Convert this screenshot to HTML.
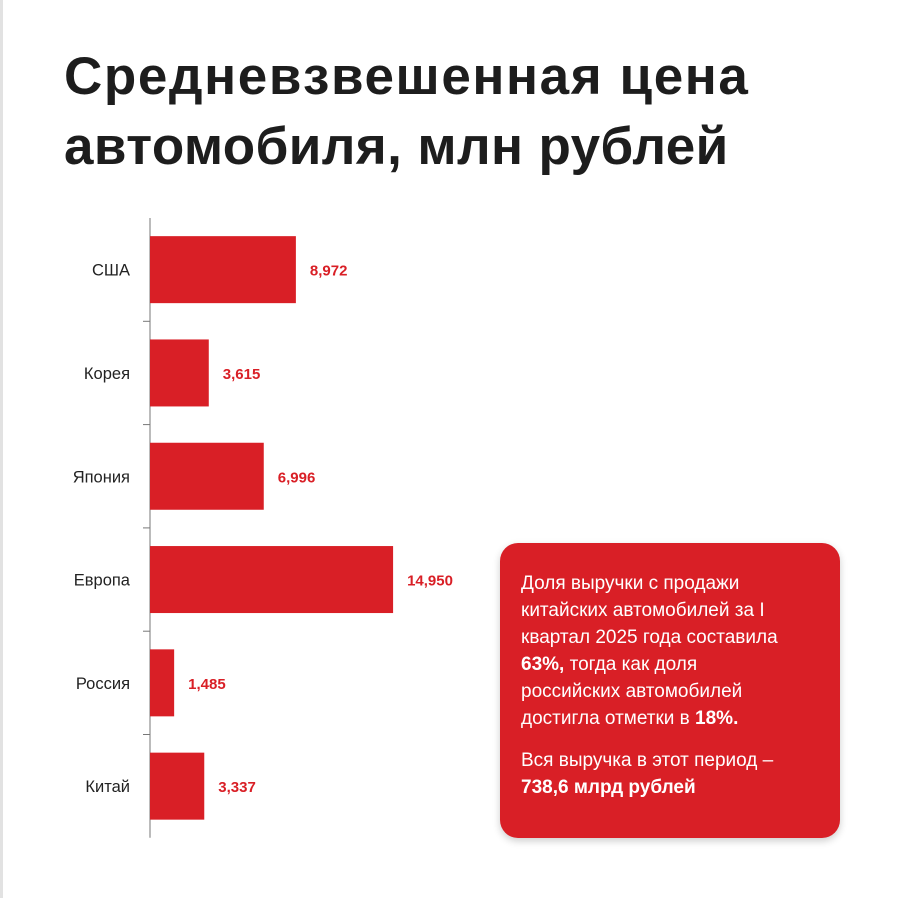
<!DOCTYPE html>
<html><head><meta charset="utf-8"><style>
body{margin:0;width:902px;height:898px;background:#fff;position:relative;overflow:hidden;font-family:"Liberation Sans","DejaVu Sans",sans-serif}
#edge{position:absolute;left:0;top:0;width:3px;height:898px;background:#e2e2e2}
h1{position:absolute;left:64px;top:42px;margin:0;font-size:53px;line-height:70px;font-weight:bold;color:#1d1d1d;letter-spacing:1.6px;white-space:nowrap}
#box{position:absolute;left:500px;top:543px;width:340px;height:295px;background:#d91f26;border-radius:18px;box-shadow:0 3px 8px rgba(0,0,0,0.2);color:#fff;font-size:19px;line-height:27px}
#box p{margin:0;position:absolute;left:21px;width:315px;white-space:nowrap}
</style></head><body>
<div id="edge"></div>
<h1>Средневзвешенная цена<br><span style="letter-spacing:0.4px">автомобиля, млн рублей</span></h1>
<svg id="chart" width="902" height="898" style="position:absolute;left:0;top:0"></svg>
<div id="box">
<p style="top:27px">Доля выручки с продажи<br>китайских автомобилей за I<br>квартал 2025 года составила<br><b>63%,</b> тогда как доля<br>российских автомобилей<br>достигла отметки в <b>18%.</b></p>
<p style="top:204px">Вся выручка в этот период –<br><b>738,6 млрд рублей</b></p>
</div>
<script>
const categories=["США","Корея","Япония","Европа","Россия","Китай"];
const values=[8.972,3.615,6.996,14.950,1.485,3.337];
const valueLabels=["8,972","3,615","6,996","14,950","1,485","3,337"];
const NS="http://www.w3.org/2000/svg";
const svg=document.getElementById('chart');
const x0=150,pxPerUnit=16.26,top0=218,band=103.3,barH=67;
const xs=v=>x0+v*pxPerUnit;
const yb=i=>top0+i*band;
function mk(t,a){const e=document.createElementNS(NS,t);for(const k in a)e.setAttribute(k,a[k]);svg.appendChild(e);return e;}
const ax=mk('line',{x1:x0,x2:x0,y1:top0,y2:top0+band*6,stroke:'#777','stroke-width':1});


for(let i=1;i<6;i++){const t=mk('line',{x1:x0-7,x2:x0,y1:yb(i),y2:yb(i),stroke:'#777','stroke-width':1});

}
categories.forEach((c,i)=>{
 const yc=yb(i)+band/2;
 const r=mk('rect',{x:x0,y:yc-barH/2,width:xs(values[i])-x0,height:barH,fill:'#d91f26'});
 
 
 const l=mk('text',{x:130,y:yc+6,'text-anchor':'end','font-size':16.5,fill:'#222'});l.textContent=c;
 
 
 const v=mk('text',{x:xs(values[i])+14,y:yc+6,'font-size':15,'font-weight':'bold',fill:'#d91f26'});v.textContent=valueLabels[i];
 
 
});
</script>
</body></html>
